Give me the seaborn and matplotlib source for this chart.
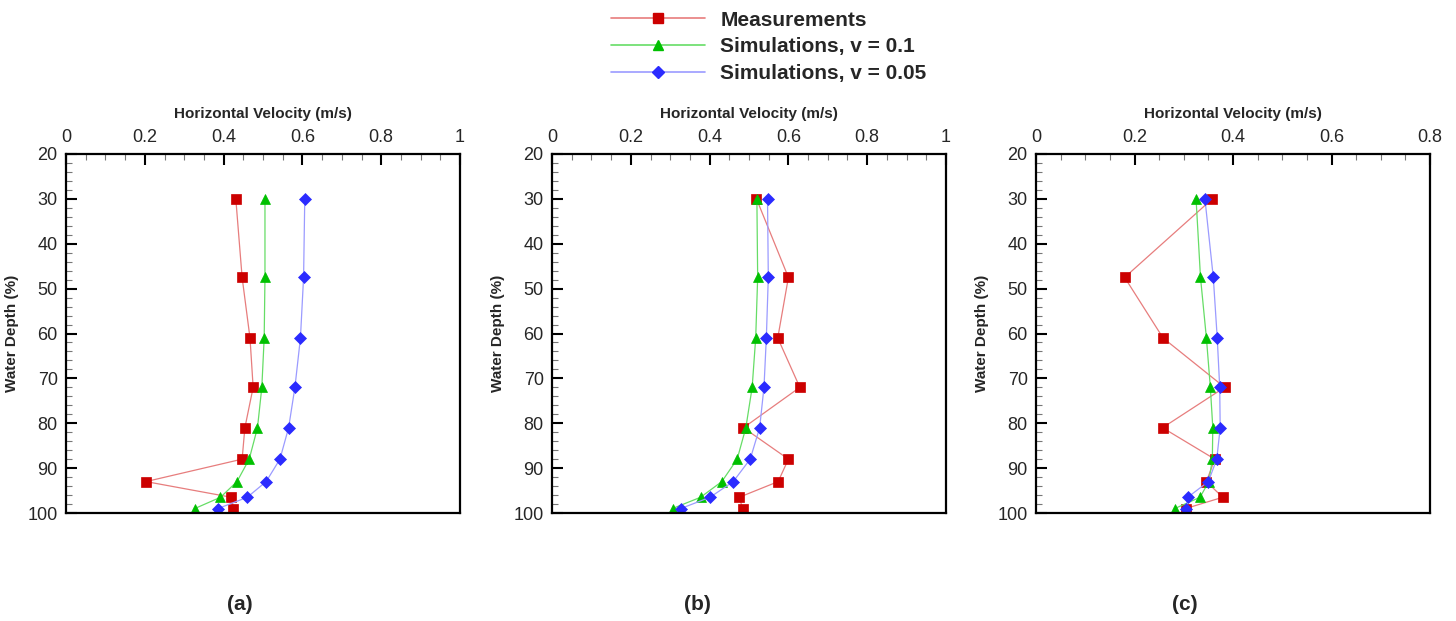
import numpy as np
import pandas as pd
import matplotlib
matplotlib.use("Agg")
import matplotlib.pyplot as plt
from matplotlib.ticker import MultipleLocator
from matplotlib.lines import Line2D
import seaborn as sns

depth = [30, 47.5, 61, 72, 81, 88, 93, 96.5, 99]

meas_a = [0.431, 0.447, 0.467, 0.475, 0.454, 0.447, 0.203, 0.420, 0.425]
sim01_a = [0.505, 0.505, 0.503, 0.497, 0.486, 0.465, 0.434, 0.392, 0.327]
sim005_a = [0.606, 0.603, 0.595, 0.581, 0.565, 0.543, 0.508, 0.460, 0.386]

meas_b = [0.519, 0.600, 0.573, 0.629, 0.486, 0.600, 0.574, 0.475, 0.484]
sim01_b = [0.520, 0.522, 0.517, 0.508, 0.492, 0.470, 0.431, 0.377, 0.306]
sim005_b = [0.547, 0.549, 0.544, 0.538, 0.527, 0.503, 0.460, 0.401, 0.327]

meas_c = [0.358, 0.180, 0.258, 0.383, 0.257, 0.363, 0.346, 0.379, 0.304]
sim01_c = [0.325, 0.334, 0.346, 0.354, 0.359, 0.358, 0.351, 0.333, 0.282]
sim005_c = [0.343, 0.360, 0.368, 0.373, 0.374, 0.367, 0.350, 0.308, 0.305]

series_names = ["Measurements", "Simulations, v = 0.1", "Simulations, v = 0.05"]
panel_labels = ["(a)", "(b)", "(c)"]
xmax = [1.0, 1.0, 0.8]

sns.set_style("white")
plt.rcParams['font.family'] = ['Liberation Sans', 'DejaVu Sans']

styles = [
    dict(marker="s", line="#e77d7d", mk="#cc0000", ms=6.5),
    dict(marker="^", line="#66dd66", mk="#00c000", ms=7.5),
    dict(marker="D", line="#9b9bff", mk="#2b2bff", ms=6.5),
]

panels = [
    (meas_a, sim01_a, sim005_a),
    (meas_b, sim01_b, sim005_b),
    (meas_c, sim01_c, sim005_c),
]

fig = plt.figure(figsize=(14.56, 6.21), dpi=100)
lefts = [66 / 1456, 552 / 1456, 1036 / 1456]
label_x = [240 / 1456, 697 / 1456, 1185 / 1456]
w = 394 / 1456
b = 1 - 513 / 621
h = 359 / 621

for i, vals in enumerate(panels):
    ax = fig.add_axes([lefts[i], b, w, h])
    for name, v, st in zip(series_names, vals, styles):
        df = pd.DataFrame({"vel": v, "depth": depth})
        sns.lineplot(data=df, x="vel", y="depth", orient="y", sort=False, ax=ax,
                     color=st["line"], lw=0.9, marker=st["marker"], markersize=st["ms"],
                     markerfacecolor=st["mk"], markeredgecolor=st["mk"], markeredgewidth=0.5)
    ax.set_xlim(0, xmax[i])
    ax.set_ylim(100, 20)
    ax.xaxis.tick_top()
    ax.xaxis.set_label_position("top")
    ax.xaxis.set_major_locator(MultipleLocator(0.2))
    ax.xaxis.set_minor_locator(MultipleLocator(0.05))
    ax.yaxis.set_major_locator(MultipleLocator(10))
    ax.yaxis.set_minor_locator(MultipleLocator(2))
    ax.xaxis.set_major_formatter(matplotlib.ticker.FuncFormatter(lambda x, p: f"{x:g}"))
    ax.tick_params(axis="both", which="major", direction="in", length=8, width=1.5,
                   labelsize=13, color="black", pad=6)
    ax.tick_params(axis="both", which="minor", direction="in", length=4, width=0.8,
                   color="#777777")
    ax.tick_params(axis="x", which="both", top=True, bottom=False)
    ax.tick_params(axis="y", which="both", left=True, right=False)
    ax.set_xlabel("Horizontal Velocity (m/s)", fontsize=11, fontweight="bold", labelpad=8)
    ax.set_ylabel("Water Depth (%)", fontsize=11, fontweight="bold", labelpad=6)
    for s in ax.spines.values():
        s.set_linewidth(1.6)
        s.set_color("black")
        s.set_visible(True)
    ax.grid(False)
    fig.text(label_x[i], 1 - 604 / 621, panel_labels[i], ha="center", va="center",
             fontsize=15, fontweight="bold")

handles = [Line2D([0], [0], color=st["line"], lw=1.2, marker=st["marker"], markersize=st["ms"],
                  markerfacecolor=st["mk"], markeredgecolor=st["mk"]) for st in styles]
leg = fig.legend(handles, series_names, loc="upper left", bbox_to_anchor=(592 / 1456, 1 + 8 / 621),
                 frameon=False, handlelength=4.5, handletextpad=0.75, labelspacing=0.37,
                 prop=dict(size=15, weight="bold"), numpoints=1)

fig.savefig("out.png", dpi=100)
